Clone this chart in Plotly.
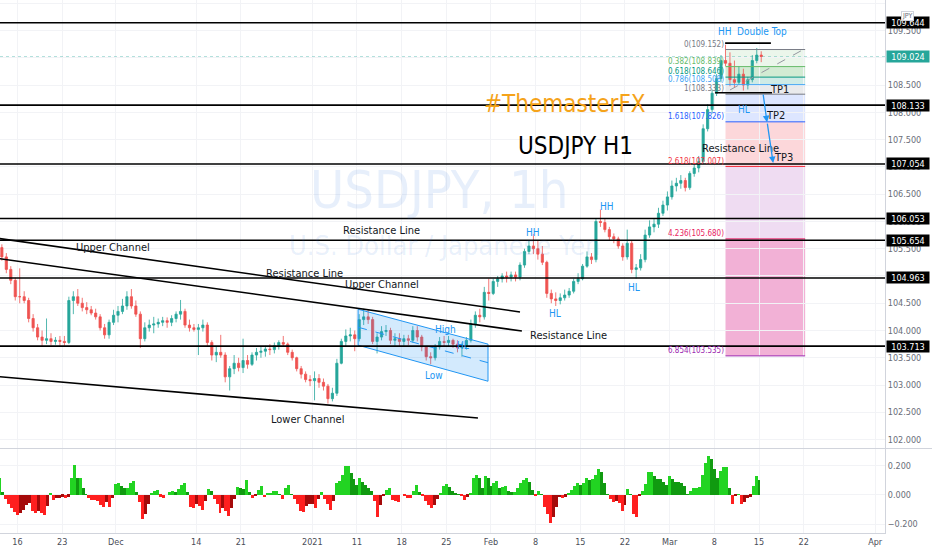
import pandas as pd
import plotly.graph_objects as go

FONT = "Liberation Sans Narrow, DejaVu Sans Condensed, Roboto, sans-serif"

# ---------------- price data (half-day candles) ----------------
opens = [
    105.62, 105.52, 105.35, 105.12, 104.92, 104.62, 104.62, 104.55, 104.22, 104.05,
    103.88, 103.82, 103.85, 103.80, 103.82, 103.80, 103.78, 104.55, 104.62, 104.50,
    104.42, 104.38, 104.32, 104.25, 104.05, 103.92, 104.15, 104.28, 104.35, 104.45,
    104.62, 104.45, 104.30, 103.85, 104.05, 104.10, 104.12, 104.15, 104.18, 104.15,
    104.22, 104.30, 104.35, 104.10, 104.05, 104.02, 104.05, 104.10, 103.78, 103.55,
    103.60, 103.55, 103.15, 103.30, 103.40, 103.32, 103.45, 103.38, 103.55, 103.60,
    103.62, 103.66, 103.65, 103.72, 103.78, 103.75, 103.60, 103.50, 103.30, 103.20,
    103.10, 103.08, 103.12, 103.05, 102.98, 102.75, 102.85, 103.40, 103.80, 103.90,
    103.92, 103.85, 104.20, 104.25, 104.20, 103.80, 103.88, 103.98, 104.00, 103.82,
    103.85, 103.80, 103.85, 103.82, 104.00, 103.88, 103.70, 103.52, 103.50, 103.70,
    103.80, 103.78, 103.82, 103.75, 103.68, 103.72, 103.82, 104.12, 104.28, 104.25,
    104.70, 104.68, 104.90, 104.95, 105.00, 104.98, 105.02, 104.98, 105.20, 105.45,
    105.55, 105.50, 105.40, 105.25, 104.68, 104.58, 104.55, 104.60, 104.65, 104.72,
    104.90, 104.95, 105.18, 105.35, 105.30, 106.00, 105.98, 105.85, 105.72, 105.68,
    105.55, 105.35, 105.60, 105.12, 105.15, 105.30, 105.75, 105.90, 105.95, 106.15,
    106.30, 106.45, 106.65, 106.70, 106.75, 106.62, 106.88, 106.98, 107.10, 107.70,
    108.05, 108.35, 108.62, 108.95, 108.90, 108.60, 108.55, 108.70, 108.50, 108.60,
    108.95, 109.05]
highs = [
    105.68, 105.58, 105.42, 105.18, 104.97, 105.14, 104.72, 104.60, 104.30, 104.12,
    104.00, 104.22, 103.95, 103.88, 103.90, 103.90, 104.62, 104.72, 104.76, 104.60,
    104.52, 104.45, 104.40, 104.30, 104.12, 104.20, 104.38, 104.45, 104.58, 104.72,
    104.76, 104.55, 104.35, 104.15, 104.20, 104.25, 104.22, 104.25, 104.24, 104.28,
    104.35, 104.56, 104.40, 104.20, 104.12, 104.12, 104.20, 104.15, 103.82, 103.70,
    103.92, 103.60, 103.35, 103.55, 103.50, 103.85, 103.55, 103.60, 103.68, 103.70,
    103.72, 103.75, 103.78, 103.82, 103.90, 103.78, 103.65, 103.52, 103.35, 103.25,
    103.18, 103.25, 103.20, 103.12, 103.02, 102.95, 103.48, 103.85, 104.02, 104.05,
    104.00, 104.30, 104.40, 104.38, 104.25, 103.95, 104.08, 104.10, 104.05, 103.95,
    103.95, 103.92, 103.92, 104.08, 104.08, 103.92, 103.72, 103.60, 103.75, 103.88,
    103.90, 103.90, 103.85, 103.82, 103.78, 103.88, 104.20, 104.35, 104.40, 104.80,
    104.95, 104.95, 105.00, 105.05, 105.08, 105.08, 105.08, 105.25, 105.50, 105.65,
    105.77, 105.65, 105.55, 105.28, 104.75, 104.70, 104.68, 104.75, 104.78, 104.95,
    105.05, 105.22, 105.45, 105.42, 106.05, 106.22, 106.05, 105.90, 105.78, 105.72,
    105.60, 105.85, 105.65, 105.22, 105.40, 105.85, 106.02, 106.05, 106.25, 106.38,
    106.55, 106.75, 106.80, 106.85, 106.80, 106.92, 107.05, 107.20, 107.78, 108.15,
    108.42, 108.70, 109.05, 109.24, 109.10, 108.95, 108.85, 108.80, 108.65, 109.05,
    109.18, 109.12]
lows = [
    105.48, 105.28, 105.05, 104.85, 104.55, 104.50, 104.50, 104.15, 103.98, 103.82,
    103.70, 103.75, 103.73, 103.74, 103.72, 103.72, 103.75, 104.30, 104.45, 104.35,
    104.30, 104.28, 104.20, 104.00, 103.85, 103.85, 104.10, 104.15, 104.30, 104.38,
    104.40, 104.25, 103.68, 103.80, 103.98, 103.95, 104.05, 104.08, 104.05, 104.08,
    104.15, 104.20, 104.05, 103.98, 103.98, 103.55, 103.98, 103.72, 103.45, 103.42,
    103.50, 103.05, 102.90, 103.20, 103.25, 103.22, 103.30, 103.35, 103.45, 103.50,
    103.52, 103.55, 103.58, 103.65, 103.70, 103.55, 103.45, 103.25, 103.12, 103.05,
    102.98, 102.72, 102.95, 102.90, 102.66, 102.70, 102.80, 103.38, 103.70, 103.80,
    103.62, 103.80, 104.10, 104.12, 103.75, 103.58, 103.82, 103.90, 103.75, 103.72,
    103.70, 103.72, 103.73, 103.78, 103.80, 103.62, 103.45, 103.38, 103.45, 103.65,
    103.70, 103.70, 103.68, 103.60, 103.52, 103.65, 103.78, 104.05, 104.15, 104.20,
    104.55, 104.65, 104.80, 104.88, 104.88, 104.90, 104.90, 104.92, 105.15, 105.40,
    105.40, 105.30, 105.20, 104.60, 104.50, 104.45, 104.48, 104.55, 104.60, 104.68,
    104.85, 104.92, 105.15, 105.22, 105.25, 105.90, 105.80, 105.65, 105.60, 105.50,
    105.28, 105.30, 105.05, 104.95, 105.10, 105.25, 105.70, 105.80, 105.88, 106.10,
    106.20, 106.40, 106.55, 106.60, 106.55, 106.58, 106.82, 106.90, 107.05, 107.65,
    107.98, 108.30, 108.55, 108.85, 108.48, 108.45, 108.50, 108.40, 108.42, 108.55,
    108.90, 108.92]
closes = [
    105.52, 105.35, 105.12, 104.92, 104.62, 104.62, 104.55, 104.22, 104.05, 103.88,
    103.82, 103.85, 103.80, 103.82, 103.80, 103.78, 104.55, 104.62, 104.50, 104.42,
    104.38, 104.32, 104.25, 104.05, 103.92, 104.15, 104.28, 104.35, 104.45, 104.62,
    104.45, 104.30, 103.85, 104.05, 104.10, 104.12, 104.15, 104.18, 104.15, 104.22,
    104.30, 104.35, 104.10, 104.05, 104.02, 104.05, 104.10, 103.78, 103.55, 103.60,
    103.55, 103.15, 103.30, 103.40, 103.32, 103.45, 103.38, 103.55, 103.60, 103.62,
    103.66, 103.65, 103.72, 103.78, 103.75, 103.60, 103.50, 103.30, 103.20, 103.10,
    103.08, 103.12, 103.05, 102.98, 102.75, 102.85, 103.40, 103.80, 103.90, 103.92,
    103.85, 104.20, 104.25, 104.20, 103.80, 103.88, 103.98, 104.00, 103.82, 103.85,
    103.80, 103.85, 103.82, 104.00, 103.88, 103.70, 103.52, 103.50, 103.70, 103.80,
    103.78, 103.82, 103.75, 103.68, 103.72, 103.82, 104.12, 104.28, 104.25, 104.70,
    104.68, 104.90, 104.95, 105.00, 104.98, 105.02, 104.98, 105.20, 105.45, 105.55,
    105.50, 105.40, 105.25, 104.68, 104.58, 104.55, 104.60, 104.65, 104.72, 104.90,
    104.95, 105.18, 105.35, 105.30, 106.00, 105.98, 105.85, 105.72, 105.68, 105.55,
    105.35, 105.60, 105.12, 105.15, 105.30, 105.75, 105.90, 105.95, 106.15, 106.30,
    106.45, 106.65, 106.70, 106.75, 106.62, 106.88, 106.98, 107.10, 107.70, 108.05,
    108.35, 108.62, 108.95, 108.90, 108.60, 108.55, 108.70, 108.50, 108.60, 108.95,
    109.05, 109.024]

osc = [
    0.115, 0.02, -0.03, -0.06, -0.09, -0.12, -0.138, -0.125, -0.1, -0.07,
    -0.057, -0.11, -0.125, -0.11, -0.125, -0.138, -0.075, 0.011, -0.034, -0.023,
    -0.018, -0.012, -0.018, -0.012, 0.12, 0.207, 0.115, 0.12, 0.046, 0.005,
    -0.02, -0.034, -0.034, -0.04, -0.07, -0.085, -0.046, -0.08, -0.023, 0.075,
    0.08, 0.06, 0.045, 0.05, 0.085, 0.095, 0.023, -0.05, -0.166, -0.13,
    -0.06, 0.01, 0.03, 0.035, -0.011, -0.018, 0.0, 0.022, 0.028, 0.023,
    0.04, 0.07, 0.085, 0.02, -0.085, -0.09, -0.06, -0.078, -0.1, -0.04,
    0.04, 0.028, -0.03, -0.06, -0.126, -0.092, -0.11, -0.145, -0.09, -0.03,
    0.057, 0.045, 0.04, 0.1, 0.023, -0.02, -0.008, 0.035, 0.06, -0.015,
    0.01, 0.016, 0.028, 0.03, 0.002, -0.03, 0.05, 0.07, 0.005, -0.03,
    -0.06, -0.11, -0.12, -0.075, -0.065, -0.06, -0.092, -0.03, 0.02, -0.025,
    -0.065, -0.1, -0.04, 0.08, 0.095, 0.14, 0.2, 0.2, 0.15, 0.11,
    0.07, 0.115, 0.09, 0.07, 0.05, 0.025, -0.04, -0.149, -0.07, -0.01,
    0.035, 0.046, -0.034, -0.04, -0.046, 0.0, -0.01, -0.018, -0.02, 0.025,
    0.07, 0.02, -0.01, -0.04, -0.07, -0.092, -0.072, -0.025, 0.01, 0.06,
    0.074, 0.053, 0.03, 0.013, 0.002, -0.01, -0.034, -0.012, 0.01, 0.115,
    0.14, 0.118, 0.05, 0.13, 0.12, 0.065, 0.08, 0.095, 0.046, 0.057,
    0.063, 0.03, 0.018, 0.02, 0.05, 0.08, 0.105, 0.12, 0.092, 0.035,
    -0.005, 0.025, 0.002, -0.08, -0.13, -0.19, -0.15, -0.085, -0.015, -0.018,
    -0.013, 0.015, 0.035, 0.06, 0.085, 0.066, 0.08, 0.118, 0.105, 0.112,
    0.14, 0.18, 0.16, 0.08, 0.005, -0.025, -0.045, -0.042, -0.055, -0.11,
    -0.068, 0.04, 0.005, -0.13, -0.15, -0.01, 0.025, 0.075, 0.16, 0.16,
    0.13, 0.112, 0.11, 0.09, 0.07, 0.13, 0.108, 0.092, 0.09, 0.08,
    0.06, 0.003, 0.028, 0.047, 0.051, 0.056, 0.14, 0.22, 0.27, 0.25,
    0.18, 0.12, 0.165, 0.19, 0.195, 0.05, -0.06, -0.005, 0.005, -0.06,
    -0.05, -0.018, -0.012, 0.06, 0.13, 0.105]

# ---------------- calendar ----------------
holidays = ["2020-12-25", "2021-01-01"]
days = [d for d in pd.bdate_range("2020-11-12", "2021-03-12")
        if d.strftime("%Y-%m-%d") not in holidays]
candle_times = [pd.Timestamp("2020-11-11 18:00")]
for d in days:
    candle_times += [d + pd.Timedelta(hours=6), d + pd.Timedelta(hours=18)]
candle_times.append(pd.Timestamp("2021-03-15 06:00"))
osc_times = []
for d in days:
    osc_times += [d + pd.Timedelta(hours=h) for h in (0, 8, 16)]
osc_times.append(pd.Timestamp("2021-03-15 00:00"))

tick_dates = ["2020-11-16", "2020-11-23", "2020-12-01", "2020-12-14", "2020-12-21",
              "2021-01-04", "2021-01-11", "2021-01-18", "2021-01-25", "2021-02-01",
              "2021-02-08", "2021-02-15", "2021-02-22", "2021-03-01", "2021-03-08",
              "2021-03-15", "2021-03-22", "2021-04-01"]
tick_text = ["16", "23", "Dec", "14", "21", "2021", "11", "18", "25", "Feb",
             "8", "15", "22", "Mar", "8", "15", "22", "Apr"]

# ---------------- drawings (dates / prices) ----------------
levels = [109.644, 108.133, 107.054, 106.053, 105.654, 104.963, 103.713]
last_price = 109.024
trend_lines = [
    ("2020-11-11 20:00", 105.69, "2021-02-04 06:00", 104.34),
    ("2020-11-11 20:00", 105.32, "2021-02-04 11:00", 103.99),
    ("2020-11-11 20:00", 103.155, "2021-01-28 13:00", 102.396),
]
chan_t0, chan_t1 = "2021-01-11 03:00", "2021-01-29 16:00"
chan_top = (104.39, 103.75)
chan_bot = (103.73, 103.07)
chan_mid = (104.06, 103.41)

black_labels = [
    ("Upper Channel", "2020-11-30 16:00", 105.53),
    ("Resistance Line", "2020-12-31 04:00", 105.05),
    ("Upper Channel", "2021-01-13 19:00", 104.85),
    ("Resistance Line", "2021-01-13 19:00", 105.83),
    ("Resistance Line", "2021-02-11 17:00", 103.90),
    ("Lower Channel", "2020-12-31 10:00", 102.36),
    ("Resistance Line", "2021-03-10 21:00", 107.33),
    ("TP1", "2021-03-17 06:00", 108.42),
    ("TP2", "2021-03-16 19:00", 107.95),
    ("TP3", "2021-03-17 19:00", 107.18),
]
blue_labels = [
    ("High", "2021-01-22 23:00", 104.01),
    ("HL", "2021-01-26 21:00", 103.72),
    ("Low", "2021-01-21 15:00", 103.17),
    ("HH", "2021-02-05 17:00", 105.79),
    ("HL", "2021-02-10 04:00", 104.32),
    ("HH", "2021-02-17 23:00", 106.27),
    ("HL", "2021-02-23 00:00", 104.78),
    ("HH", "2021-03-09 04:00", 109.49),
    ("HL", "2021-03-11 08:00", 108.06),
    ("Double Top", "2021-03-15 08:00", 109.49),
]
fib_t0, fib_t1 = "2021-03-09 06:00", "2021-03-22 04:00"
fib_ratios = [0, 0.382, 0.618, 0.786, 1, 1.618, 2.618, 4.236, 6.854]
fib_prices = [109.152, 108.839, 108.646, 108.508, 108.333, 107.826, 107.007, 105.680, 103.535]
fib_colors = ["#787b86", "#66bb6a", "#089981", "#42a5f5", "#787b86", "#2962ff",
              "#f23645", "#e91e63", "#9c27b0"]
fib_fills = ["rgba(129,199,132,0.16)", "rgba(76,175,80,0.25)", "rgba(8,153,129,0.2)",
             "rgba(120,123,134,0.16)", "rgba(41,98,255,0.16)", "rgba(242,54,69,0.2)",
             "rgba(156,39,176,0.16)", "rgba(220,40,140,0.36)"]

# ---------------- figure ----------------
fig = go.Figure()

fig.add_trace(go.Scatter(
    x=[chan_t0, chan_t1, chan_t1, chan_t0, chan_t0],
    y=[chan_top[0], chan_top[1], chan_bot[1], chan_bot[0], chan_top[0]],
    mode="lines", fill="toself", fillcolor="rgba(33,150,243,0.2)",
    line=dict(color="#2196f3", width=1), hoverinfo="skip", showlegend=False,
    xaxis="x", yaxis="y"))
fig.add_trace(go.Scatter(
    x=[chan_t0, chan_t1], y=list(chan_mid), mode="lines",
    line=dict(color="#2196f3", width=1, dash="dash"), hoverinfo="skip",
    showlegend=False, xaxis="x", yaxis="y"))

fig.add_trace(go.Candlestick(
    x=candle_times, open=opens, high=highs, low=lows, close=closes,
    increasing=dict(line=dict(color="#26a69a", width=0.8), fillcolor="#26a69a"),
    decreasing=dict(line=dict(color="#ef5350", width=0.8), fillcolor="#ef5350"),
    whiskerwidth=0, hoverinfo="skip", showlegend=False, xaxis="x", yaxis="y"))

osc_colors = []
prev = 0.0
for v in osc:
    if v >= 0:
        osc_colors.append("#22d422" if v >= prev else "#109a10")
    else:
        osc_colors.append("#ff1f1f" if v <= prev else "#a50a0a")
    prev = v
fig.add_trace(go.Bar(
    x=osc_times, y=osc, width=8 * 3600 * 1000,
    marker=dict(color=osc_colors, line=dict(width=0)),
    hoverinfo="skip", showlegend=False, xaxis="x", yaxis="y2"))

shapes = []
for i in range(len(fib_prices) - 1):
    shapes.append(dict(type="rect", xref="x", yref="y", x0=fib_t0, x1=fib_t1,
                       y0=fib_prices[i + 1], y1=fib_prices[i],
                       fillcolor=fib_fills[i], line=dict(width=0), layer="below"))
for p, c in zip(fib_prices, fib_colors):
    shapes.append(dict(type="line", xref="x", yref="y", x0=fib_t0, x1=fib_t1,
                       y0=p, y1=p, line=dict(color=c, width=1)))
shapes.append(dict(type="line", xref="x", yref="y", x0="2021-03-09 18:00", y0=108.41,
                   x1="2021-03-22 04:00", y1=109.17,
                   line=dict(color="#9598a1", width=1, dash="dash")))
shapes.append(dict(type="line", xref="paper", yref="y", x0=0, x1=1, y0=last_price,
                   y1=last_price, line=dict(color="rgba(38,166,154,0.35)", width=1, dash="dot")))
for p in levels:
    shapes.append(dict(type="line", xref="paper", yref="y", x0=0, x1=1, y0=p, y1=p,
                       line=dict(color="#000000", width=1.6)))
for x0, y0, x1, y1 in trend_lines:
    shapes.append(dict(type="line", xref="x", yref="y", x0=x0, y0=y0, x1=x1, y1=y1,
                       line=dict(color="#000000", width=1.6)))
shapes.append(dict(type="line", xref="x", yref="y", x0="2021-03-09 05:00", x1="2021-03-16 08:00",
                   y0=109.27, y1=109.27, line=dict(color="#000000", width=1.6)))
shapes.append(dict(type="line", xref="x", yref="y", x0="2021-03-08 02:00", x1="2021-03-16 11:00",
                   y0=108.36, y1=108.36, line=dict(color="#000000", width=1.6)))
shapes.append(dict(type="line", xref="paper", yref="paper", x0=0, x1=932 / 885,
                   y0=0.1585, y1=0.1585, line=dict(color="#d1d4dc", width=1)))

annotations = []
annotations.append(dict(text="USDJPY, 1h", xref="paper", yref="paper", x=0.497, y=0.6435,
                        showarrow=False, font=dict(size=52, color="rgba(33,110,220,0.11)", family=FONT)))
annotations.append(dict(text="U.S. Dollar / Japanese Yen", xref="paper", yref="paper", x=0.503, y=0.54,
                        showarrow=False, font=dict(size=27, color="rgba(33,110,220,0.11)", family=FONT)))
annotations.append(dict(text="#ThemasterFX", xref="paper", yref="paper", x=0.638, y=0.835,
                        showarrow=False, font=dict(size=24, color="#f5a31a", family=FONT)))
annotations.append(dict(text="USDJPY H1", xref="paper", yref="paper", x=0.65, y=0.756,
                        showarrow=False, font=dict(size=24, color="#000000", family=FONT)))
for t, x, y in black_labels:
    annotations.append(dict(text=t, x=x, y=y, xref="x", yref="y", showarrow=False,
                            font=dict(size=11, color="#131722", family=FONT)))
for t, x, y in blue_labels:
    annotations.append(dict(text=t, x=x, y=y, xref="x", yref="y", showarrow=False,
                            font=dict(size=10, color="#2196f3", family=FONT)))
for r, p, c in zip(fib_ratios, fib_prices, fib_colors):
    annotations.append(dict(text=f"{r}({p:.3f})", x=fib_t0, y=p, xref="x", yref="y",
                            xanchor="right", yanchor="bottom", showarrow=False, yshift=-1,
                            font=dict(size=8, color=c, family=FONT)))
annotations.append(dict(x="2021-03-15 21:30", y=107.82, xref="x", yref="y", ax=-4, ay=-29,
                        showarrow=True, arrowhead=2, arrowsize=1, arrowwidth=1.3,
                        arrowcolor="#2196f3", text=""))
annotations.append(dict(x="2021-03-16 14:00", y=107.07, xref="x", yref="y", ax=-6, ay=-41,
                        showarrow=True, arrowhead=2, arrowsize=1, arrowwidth=1.3,
                        arrowcolor="#2196f3", text=""))
for p in levels:
    annotations.append(dict(text=f"{p:.3f}", xref="paper", yref="y", x=1, y=p,
                            xanchor="left", xshift=1, showarrow=False, bgcolor="#000000",
                            width=42, height=11, borderpad=0,
                            font=dict(size=9, color="#ffffff", family=FONT)))
annotations.append(dict(text=f"{last_price:.3f}", xref="paper", yref="y", x=1, y=last_price,
                        xanchor="left", xshift=1, showarrow=False, bgcolor="#26a69a",
                        width=42, height=11, borderpad=0,
                        font=dict(size=9, color="#ffffff", family=FONT)))
annotations.append(dict(text="JPY", xref="paper", yref="paper", x=1, y=0.979, xanchor="left",
                        xshift=16, showarrow=False, bgcolor="#ffffff", bordercolor="#d1d4dc",
                        borderwidth=1, borderpad=0, font=dict(size=7, color="#6a6d78", family=FONT)))

fig.update_layout(
    width=932, height=550,
    margin=dict(l=0, r=47, t=0, b=17, autoexpand=False),
    paper_bgcolor="#ffffff", plot_bgcolor="#ffffff",
    showlegend=False, bargap=0,
    font=dict(family=FONT, size=10, color="#131722"),
    shapes=shapes, annotations=annotations,
    xaxis=dict(
        type="date", anchor="y2", domain=[0, 1], automargin=False,
        range=["2020-11-12 01:00", "2021-04-02 02:30"],
        rangebreaks=[dict(bounds=["sat", "mon"]), dict(values=holidays)],
        rangeslider=dict(visible=False),
        tickmode="array", tickvals=tick_dates, ticktext=tick_text,
        tickfont=dict(size=9, color="#4a4d57", family=FONT),
        showgrid=True, gridcolor="#f2f3f6", gridwidth=1,
        showline=True, linecolor="#d1d4dc", ticks="", zeroline=False, fixedrange=True),
    yaxis=dict(
        domain=[0.1595, 1], range=[101.846, 110.06], side="right", automargin=False,
        tickmode="array", tickvals=[102 + 0.5 * i for i in range(17)], tickformat=".3f",
        tickfont=dict(size=9, color="#6a6d78", family=FONT),
        showgrid=True, gridcolor="#f2f3f6", zeroline=False,
        showline=True, linecolor="#d1d4dc", ticks="", anchor="x"),
    yaxis2=dict(
        domain=[0, 0.1576], range=[-0.262, 0.317], side="right", automargin=False,
        tickmode="array", tickvals=[-0.2, 0, 0.2], tickformat=".3f",
        tickfont=dict(size=9, color="#6a6d78", family=FONT),
        showgrid=True, gridcolor="#f2f3f6", zeroline=False,
        showline=True, linecolor="#d1d4dc", ticks="", anchor="x"),
)

fig.write_html("out.html", config={"displayModeBar": False},
               post_script="document.body.style.margin='0';document.body.style.overflow='hidden';")
